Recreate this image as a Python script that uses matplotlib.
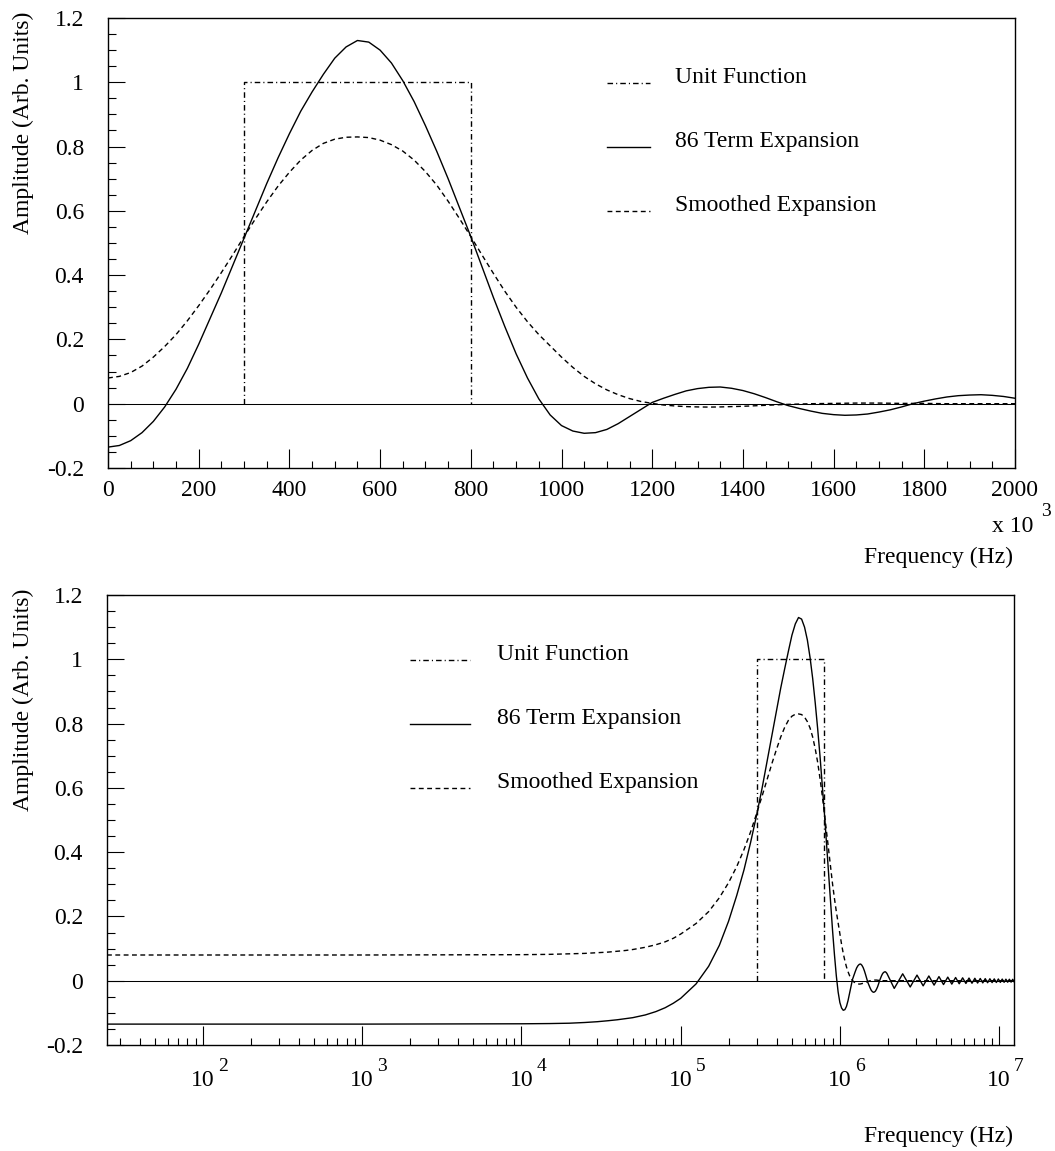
import numpy as np
import matplotlib
matplotlib.use("Agg")
import matplotlib.pyplot as plt
from matplotlib import ticker

plt.rcParams["font.family"] = ["Liberation Serif", "DejaVu Serif"]
plt.rcParams["font.size"] = 17

# sample frequencies (kHz), 25 kHz grid over the linear panel
freq_khz = list(range(0, 2001, 25))

term86 = [-0.135, -0.130, -0.115, -0.090, -0.055, -0.010, 0.045, 0.110, 0.185,
          0.265, 0.345, 0.430, 0.515, 0.600, 0.685, 0.765, 0.840, 0.910, 0.970,
          1.025, 1.075, 1.110, 1.130, 1.125, 1.100, 1.060, 1.005, 0.940, 0.865,
          0.785, 0.700, 0.610, 0.520, 0.425, 0.330, 0.240, 0.155, 0.080, 0.015,
          -0.035, -0.068, -0.085, -0.092, -0.090, -0.080, -0.062, -0.040, -0.018, 0.004,
          0.017, 0.029, 0.040, 0.047, 0.051, 0.052, 0.048, 0.041,
          0.031, 0.019, 0.006, -0.006, -0.015, -0.023, -0.030, -0.034,
          -0.036, -0.035, -0.032, -0.026, -0.019, -0.010, 0.000, 0.008,
          0.015, 0.021, 0.025, 0.027, 0.028, 0.026, 0.0225, 0.017]

smoothed = [0.080, 0.085, 0.097, 0.117, 0.145, 0.178, 0.215, 0.258, 0.305,
            0.355, 0.408, 0.463, 0.520, 0.575, 0.628, 0.677, 0.720, 0.758, 0.788,
            0.810, 0.823, 0.829, 0.830, 0.828, 0.820, 0.806, 0.786, 0.758, 0.722,
            0.680, 0.630, 0.576, 0.520, 0.462, 0.405, 0.350, 0.300, 0.255, 0.215,
            0.180, 0.145, 0.113, 0.085, 0.062, 0.043, 0.028, 0.016, 0.007, 0.001,
            -0.004, -0.007, -0.009, -0.010, -0.0105, -0.010, -0.009, -0.008,
            -0.0065, -0.005, -0.0035, -0.002, -0.001, 0.000, 0.0005, 0.001,
            0.0015, 0.002, 0.002, 0.002, 0.0015, 0.001, 0.001, 0.001,
            0.0005, 0.0, 0.0, 0.0, 0.0, 0.0, 0.0, 0.0]

# ringing of the 86 term expansion above 2 MHz (extrema, kHz)
tail_khz = [2195, 2480, 2765, 3050, 3335, 3620, 3905, 4190, 4475, 4760,
            5045, 5330, 5615, 5900, 6185, 6470, 6755, 7040, 7325, 7610,
            7895, 8180, 8465, 8750, 9035, 9320, 9605, 9890, 10175, 10460,
            10745, 11030, 11315, 11600, 11885, 12170, 12455]
tail_term86 = [-0.024, 0.0215, -0.0195, 0.0175, -0.016, 0.0148, -0.0137, 0.0128,
               -0.012, 0.0112, -0.0106, 0.010, -0.0095, 0.009, -0.0086, 0.0083,
               -0.0079, 0.0076, -0.0073, 0.007, -0.0068, 0.0065, -0.0063, 0.0061,
               -0.0059, 0.0057, -0.0056, 0.0054, -0.0052, 0.0051, -0.005, 0.0048,
               -0.0047, 0.0046, -0.0045, 0.0044, -0.0043]
tail_smoothed = [0.0] * len(tail_khz)

# low frequency part (Hz) for the log panel, below 100 kHz
low_hz = [25, 1000, 5000, 10000, 15000, 20000, 25000, 30000, 35000, 40000,
          45000, 50000, 60000, 70000, 80000, 90000]
low_term86 = [-0.135, -0.135, -0.1345, -0.134, -0.1333, -0.1322, -0.130, -0.1275,
              -0.1245, -0.1215, -0.118, -0.115, -0.1065, -0.096, -0.084, -0.070]
low_smoothed = [0.080, 0.080, 0.0805, 0.081, 0.082, 0.0835, 0.085, 0.087,
                0.089, 0.0915, 0.094, 0.097, 0.104, 0.112, 0.121, 0.132]

# unit (box) function edges in kHz
unit_edges_khz = [300, 800]
unit_level = 1.0

labels = ["Unit Function", "86 Term Expansion", "Smoothed Expansion"]
y_ticks = [-0.2, 0, 0.2, 0.4, 0.6, 0.8, 1, 1.2]

assert len(freq_khz) == len(term86) == len(smoothed)

DASHDOT = (0, (4, 2.2, 0.8, 2.2))
DASHED = (0, (3.5, 2.5))
styles = [DASHDOT, "-", DASHED]

W, H = 1055, 1151
fig = plt.figure(figsize=(W / 100, H / 100), dpi=100, facecolor="white")
ax1 = fig.add_axes([108 / W, 1 - 468 / H, 907 / W, 450 / H])
ax2 = fig.add_axes([107 / W, 1 - 1045 / H, 907 / W, 450 / H])


def style_axes(ax):
    for sp in ax.spines.values():
        sp.set_linewidth(1.0)
    ax.tick_params(which="both", direction="in", top=False, right=False,
                   width=0.8, labelsize=17)
    ax.tick_params(axis="x", which="major", length=14, pad=8.6)
    ax.tick_params(axis="x", which="minor", length=5)
    ax.tick_params(axis="y", which="major", length=12, pad=17.3)
    ax.tick_params(axis="y", which="minor", length=5.5)
    ax.set_ylim(-0.2, 1.2)
    ax.yaxis.set_major_locator(ticker.FixedLocator(y_ticks))
    ax.yaxis.set_minor_locator(ticker.MultipleLocator(0.05))
    ax.yaxis.set_major_formatter(ticker.FuncFormatter(lambda v, p: f"{v:g}"))
    ax.axhline(0, color="black", lw=0.75, zorder=1)


def draw_legend(ax, x0, x1, xt):
    ys = [0.856, 0.713, 0.571]
    for y, ls, lab in zip(ys, styles, labels):
        ax.plot([x0, x1], [y, y], transform=ax.transAxes, color="black",
                lw=1.0, linestyle=ls)
        ax.text(xt, y, lab, transform=ax.transAxes, ha="left", va="baseline",
                fontsize=17)


# top panel: linear frequency in kHz
x_all = np.array(freq_khz + tail_khz, dtype=float)
t86_all = np.array(term86 + tail_term86)
sm_all = np.array(smoothed + tail_smoothed)
ux = [unit_edges_khz[0], unit_edges_khz[0], unit_edges_khz[1], unit_edges_khz[1]]
uy = [0, unit_level, unit_level, 0]

style_axes(ax1)
ax1.plot(ux, uy, color="black", lw=1.0, linestyle=DASHDOT)
ax1.plot(x_all, t86_all, color="black", lw=1.0)
ax1.plot(x_all, sm_all, color="black", lw=1.0, linestyle=DASHED)
ax1.set_xlim(0, 2000)
ax1.xaxis.set_major_locator(ticker.FixedLocator(list(range(0, 2001, 200))))
ax1.xaxis.set_minor_locator(ticker.MultipleLocator(50))
ax1.xaxis.set_major_formatter(ticker.FuncFormatter(lambda v, p: f"{v:g}"))
draw_legend(ax1, 0.550, 0.598, 0.625)

# bottom panel: log frequency in Hz
keep = x_all >= 100
xh = np.concatenate([low_hz, x_all[keep] * 1e3])
t86_h = np.concatenate([low_term86, t86_all[keep]])
sm_h = np.concatenate([low_smoothed, sm_all[keep]])

style_axes(ax2)
ax2.set_xscale("log")
ax2.plot(np.array(ux) * 1e3, uy, color="black", lw=1.0, linestyle=DASHDOT)
ax2.plot(xh, t86_h, color="black", lw=1.0)
ax2.plot(xh, sm_h, color="black", lw=1.0, linestyle=DASHED)
ax2.set_xlim(25, 1.24e7)
ax2.xaxis.set_major_locator(ticker.LogLocator(base=10, numticks=20))
ax2.xaxis.set_minor_locator(ticker.LogLocator(base=10, subs=np.arange(2, 10), numticks=30))
ax2.xaxis.set_minor_formatter(ticker.NullFormatter())
ax2.tick_params(axis="x", labelbottom=False)
for k in range(2, 8):
    ax2.annotate("10", xy=(10.0 ** k, 0), xycoords=("data", "axes fraction"),
                 xytext=(0, -18), textcoords="offset points",
                 ha="center", va="top", fontsize=17)
    ax2.annotate(str(k), xy=(10.0 ** k, 0), xycoords=("data", "axes fraction"),
                 xytext=(10.8, -9.4), textcoords="offset points",
                 ha="left", va="top", fontsize=14)
draw_legend(ax2, 0.334, 0.400, 0.430)

# axis titles, ROOT-like placement
for top_px in (12, 589):
    fig.text(23 / W, 1 - top_px / H, "Amplitude (Arb. Units)", rotation=90,
             ha="center", va="top", fontsize=17)
fig.text(1033 / W, 1 - 527 / H, "x 10", ha="right", va="center", fontsize=17)
fig.text(1041 / W, 1 - 512 / H, "3", ha="left", va="center", fontsize=14)
fig.text(1013 / W, 1 - 557 / H, "Frequency (Hz)", ha="right", va="center", fontsize=17)
fig.text(1013 / W, 1 - 1136 / H, "Frequency (Hz)", ha="right", va="center", fontsize=17)

fig.savefig("out.png", dpi=100, facecolor="white")
